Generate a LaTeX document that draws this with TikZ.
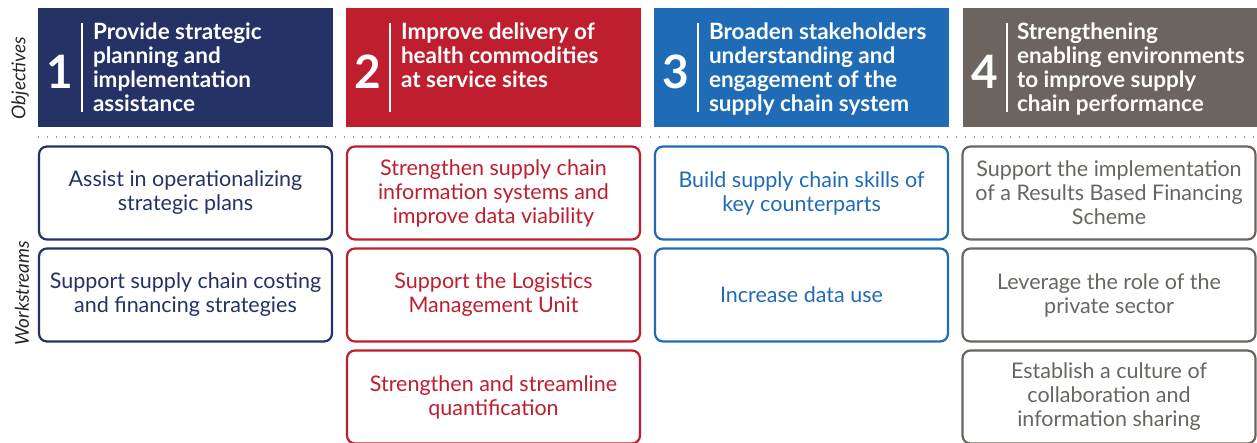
\documentclass[tikz,border=0pt]{standalone}
\usepackage{fontspec}
\setmainfont{Lato}
\usetikzlibrary{positioning}
\definecolor{navy}{RGB}{36,50,102}
\definecolor{crimson}{RGB}{190,30,46}
\definecolor{azure}{RGB}{31,107,181}
\definecolor{taupe}{RGB}{107,100,97}
\tikzset{
    objective/.style = {
        fill=#1,
        rectangle,
        inner sep=0pt,
        minimum height=119pt,
        minimum width=295pt
    },
    objnum/.style = {
        text=white,
        inner sep=0pt,
        font=\fontsize{46}{46}\selectfont\bfseries
    },
    objtext/.style = {
        text=white,
        anchor=north west,
        align=left,
        inner sep=0pt,
        font=\fontsize{22.5}{24}\selectfont\bfseries
    },
    objline/.style = {
        draw=white,
        line width=1.8pt
    },
    workstream/.style = {
        draw=#1,
        text=#1,
        fill=white,
        rectangle,
        rounded corners=8pt,
        line width=2.2pt,
        align=center,
        minimum height=93pt,
        minimum width=293pt,
        font=\fontsize{21.5}{24}\selectfont
    },
    sidelabel/.style = {
        rotate=90,
        text=black!85,
        font=\fontsize{19}{19}\selectfont\itshape
    }
}

\begin{document}
\begin{tikzpicture}[x=1pt,y=-1pt]
    \useasboundingbox (0,0) rectangle (1257,443);
    % side labels
    \node [sidelabel] (objlabel) at (20,78) {Objectives};
    \node [sidelabel] (wslabel) at (22,293) {Workstreams};

    % objectives
    \node [objective=navy] (obj1) at (185.5,67.5) {};
    \node [objective=crimson] (obj2) at (493.5,67.5) {};
    \node [objective=azure] (obj3) at (801.5,67.5) {};
    \node [objective=taupe] (obj4) at (1110.5,67.5) {};

    \node [objnum] (num1) at ([xshift=22pt,yshift=-4pt]obj1.west) {1};
    \node [objnum] (num2) at ([xshift=22pt,yshift=-4pt]obj2.west) {2};
    \node [objnum] (num3) at ([xshift=22pt,yshift=-4pt]obj3.west) {3};
    \node [objnum] (num4) at ([xshift=22pt,yshift=-4pt]obj4.west) {4};

    \draw [objline] ([xshift=44pt,yshift=-15pt]obj1.north west) -- ([xshift=44pt,yshift=15pt]obj1.south west);
    \draw [objline] ([xshift=44pt,yshift=-15pt]obj2.north west) -- ([xshift=44pt,yshift=15pt]obj2.south west);
    \draw [objline] ([xshift=44pt,yshift=-15pt]obj3.north west) -- ([xshift=44pt,yshift=15pt]obj3.south west);
    \draw [objline] ([xshift=44pt,yshift=-15pt]obj4.north west) -- ([xshift=44pt,yshift=15pt]obj4.south west);

    \node [objtext] (txt1) at ([xshift=55pt,yshift=-15pt]obj1.north west) {Provide strategic\\planning and\\implementation\\assistance};
    \node [objtext] (txt2) at ([xshift=55pt,yshift=-15pt]obj2.north west) {Improve delivery of\\health commodities\\at service sites};
    \node [objtext] (txt3) at ([xshift=55pt,yshift=-15pt]obj3.north west) {Broaden stakeholders\\understanding and\\engagement of the\\supply chain system};
    \node [objtext] (txt4) at ([xshift=54pt,yshift=-15pt]obj4.north west) {Strengthening\\enabling environments\\to improve supply\\chain performance};

    % separator
    \draw [taupe!70, line width=1.6pt, dash pattern=on 1.6pt off 7.4pt] (obj1.south west) ++(0,10) coordinate (sepstart) -- (sepstart -| obj4.east);

    % workstreams
    \node [workstream=navy,below of=obj1,node distance=125.5pt] (ws11) {Assist in operationalizing\\strategic plans};
    \node [workstream=navy,below of=ws11,node distance=102pt] (ws12) {Support supply chain costing\\and financing strategies};

    \node [workstream=crimson,below of=obj2,node distance=125.5pt] (ws21) {Strengthen supply chain\\information systems and\\improve data viability};
    \node [workstream=crimson,below of=ws21,node distance=102pt] (ws22) {Support the Logistics\\Management Unit};
    \node [workstream=crimson,below of=ws22,node distance=102pt] (ws23) {Strengthen and streamline\\quantification};

    \node [workstream=azure,below of=obj3,node distance=125.5pt] (ws31) {Build supply chain skills of\\key counterparts};
    \node [workstream=azure,below of=ws31,node distance=102pt] (ws32) {Increase data use};

    \node [workstream=taupe,below of=obj4,node distance=125.5pt,xshift=-1.5pt] (ws41) {Support the implementation\\of a Results Based Financing\\Scheme};
    \node [workstream=taupe,below of=ws41,node distance=102pt] (ws42) {Leverage the role of the\\private sector};
    \node [workstream=taupe,below of=ws42,node distance=102pt] (ws43) {Establish a culture of\\collaboration and\\information sharing};
\end{tikzpicture}
\end{document}
